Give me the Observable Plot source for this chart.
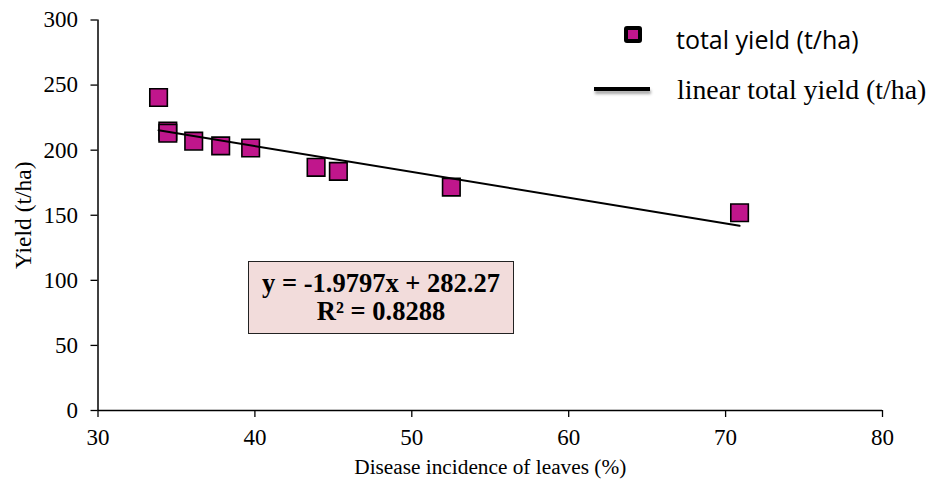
<!DOCTYPE html>
<html><head><meta charset="utf-8">
<script src="https://cdn.jsdelivr.net/npm/d3@7"></script>
<script src="https://cdn.jsdelivr.net/npm/@observablehq/plot@0.6"></script>
<style>
body{margin:0;background:#fff;}
#wrap{position:relative;width:929px;height:482px;}
#wrap svg text{font-family:"Liberation Serif",serif !important;fill:#000;}
#wrap svg g[aria-label="x-axis tick label"] text,
#wrap svg g[aria-label="y-axis tick label"] text{font-size:23px !important;}
.leg{position:absolute;white-space:nowrap;color:#000;}
#legSq{position:absolute;left:624px;top:26px;width:10px;height:9px;background:#C0168C;border:4px solid #000;border-radius:3px;}
#legLn{position:absolute;left:594px;top:87px;width:56px;height:4px;background:#000;box-shadow:1px 3px 3px rgba(0,0,0,0.35);}
#legT1{left:676px;top:23px;font-family:"Open Sans",sans-serif;font-size:25px;line-height:32px;}
#legT2{left:677px;top:74px;font-family:"Liberation Serif",serif;font-size:27.8px;line-height:32px;}
#eq{position:absolute;left:248px;top:261px;width:264px;height:71px;background:#F2DCDB;border:1.5px solid #222;
  font-family:"Liberation Serif",serif;font-weight:bold;font-size:26.5px;line-height:27.5px;text-align:center;color:#000;
  display:flex;flex-direction:column;justify-content:center;}
</style></head><body><div id="wrap"></div>
<script>
// Data
const incidence = [33.86, 34.45, 34.45, 36.1, 37.82, 39.73, 43.9, 45.32, 52.52, 70.89];
const totalYield = [240.5, 214.6, 213.0, 206.9, 203.3, 201.7, 186.8, 183.7, 171.6, 151.9];
const slope = -1.9797;
const intercept = 282.27;
const rSquared = 0.8288;
const xTicks = [30, 40, 50, 60, 70, 80];
const yTicks = [0, 50, 100, 150, 200, 250, 300];
const seriesName = "total yield (t/ha)";
const trendName = "linear total yield (t/ha)";
const xLabel = "Disease incidence of leaves (%)";
const yLabel = "Yield (t/ha)";

const serif = "Liberation Serif";
const points = incidence.map((x, i) => ({x, y: totalYield[i]}));
const xMin = d3.min(incidence), xMax = d3.max(incidence);
const trend = [xMin, xMax].map(x => ({x, y: slope * x + intercept}));

const chart = Plot.plot({
  width: 929,
  height: 482,
  marginLeft: 97.5,
  marginRight: 47,
  marginTop: 19.5,
  marginBottom: 72,
  style: {fontFamily: "'Liberation Serif', serif", fontSize: "23px", color: "#000", background: "#fff"},
  x: {domain: [30, 80]},
  y: {domain: [0, 300]},
  marks: [
    Plot.axisX({ticks: xTicks, tickSize: 7, tickPadding: 11, label: null, stroke: "#000", strokeWidth: 1.3, fontFamily: serif, fontSize: 23, fill: "#000"}),
    Plot.axisY({ticks: yTicks, tickSize: 7, tickPadding: 13, label: null, stroke: "#000", strokeWidth: 1.3, fontFamily: serif, fontSize: 23, fill: "#000"}),
    Plot.ruleX([30], {stroke: "#000", strokeWidth: 1.5}),
    Plot.ruleY([0], {stroke: "#000", strokeWidth: 1.5}),
    Plot.text([xLabel], {frameAnchor: "bottom", dy: 57, textAnchor: "middle", lineAnchor: "middle", fontFamily: serif, fontSize: 21.3, fill: "#000"}),
    Plot.text([yLabel], {frameAnchor: "left", dx: -75, rotate: -90, textAnchor: "middle", lineAnchor: "middle", fontFamily: serif, fontSize: 23.5, fill: "#000"}),
    Plot.dot(points, {x: "x", y: "y", symbol: "square", r: 9.9, fill: "#C0168C", stroke: "#000", strokeWidth: 1.6}),
    Plot.line(trend, {x: "x", y: "y", stroke: "#000", strokeWidth: 2})
  ]
});
const wrap = document.getElementById("wrap");
wrap.appendChild(chart);

const sq = document.createElement("div"); sq.id = "legSq"; wrap.appendChild(sq);
const t1 = document.createElement("div"); t1.id = "legT1"; t1.className = "leg"; t1.textContent = seriesName; wrap.appendChild(t1);
const ln = document.createElement("div"); ln.id = "legLn"; wrap.appendChild(ln);
const t2 = document.createElement("div"); t2.id = "legT2"; t2.className = "leg"; t2.textContent = trendName; wrap.appendChild(t2);
const eq = document.createElement("div"); eq.id = "eq";
eq.innerHTML = `<div>y = ${slope}x + ${intercept}</div><div>R² = ${rSquared}</div>`;
wrap.appendChild(eq);
</script></body></html>
